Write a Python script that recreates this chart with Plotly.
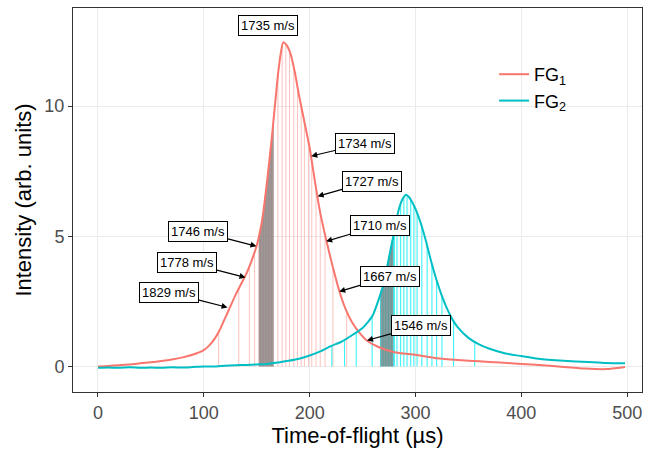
import numpy as np
import plotly.graph_objects as go

# ---- data ----
fg1_t = [0, 10, 20, 30, 40, 50, 60, 70, 80, 90, 100, 105, 110, 115, 120, 125, 130, 135, 140, 145,
         150, 155, 160, 165, 170, 173, 175, 178, 182, 186, 190, 195, 200, 205, 210, 216, 222, 228,
         234, 240, 247, 254, 265, 280, 300, 320, 340, 360, 380, 400, 420, 440, 460, 480, 490, 498]
fg1_y = [0.00, 0.02, 0.05, 0.08, 0.12, 0.16, 0.21, 0.27, 0.35, 0.46, 0.63, 0.80, 1.05, 1.40, 1.85,
         2.30, 2.75, 3.15, 3.55, 4.05, 4.65, 5.60, 7.20, 9.10, 11.20, 12.10, 12.45, 12.35, 12.00,
         11.30, 10.40, 9.40, 8.40, 7.10, 5.90, 4.80, 3.80, 2.90, 2.20, 1.70, 1.30, 1.00, 0.75,
         0.55, 0.45, 0.32, 0.25, 0.20, 0.15, 0.10, 0.05, -0.02, -0.08, -0.10, -0.06, -0.02]

fg2_t = [0, 10, 20, 30, 40, 50, 60, 70, 80, 90, 100, 110, 120, 130, 140, 150, 160, 170, 180, 190,
         200, 210, 220, 230, 240, 250, 255, 260, 265, 270, 275, 280, 284, 288, 291, 294, 297, 300,
         305, 310, 315, 320, 325, 330, 335, 340, 350, 360, 370, 385, 400, 416, 440, 463, 480, 498]
fg2_y = [-0.05, -0.04, -0.05, -0.03, -0.05, -0.04, -0.05, -0.03, -0.04, -0.02, 0.00, 0.00, 0.03,
         0.05, 0.06, 0.08, 0.10, 0.15, 0.22, 0.30, 0.42, 0.58, 0.78, 0.95, 1.20, 1.48, 1.70, 2.00,
         2.55, 3.20, 4.20, 5.20, 6.00, 6.45, 6.60, 6.50, 6.30, 6.05, 5.50, 4.80, 4.00, 3.30, 2.70,
         2.20, 1.80, 1.50, 1.10, 0.85, 0.68, 0.50, 0.40, 0.30, 0.22, 0.17, 0.13, 0.12]

fg1_sticks = [114, 133, 143, 148, 152, 153.5, 155, 156.5, 158, 159.5, 161, 162.5, 164, 165.5,
              170, 174, 177.5, 181, 185, 188.5, 192, 195, 199, 202, 206, 210, 214.5, 222, 235]
fg2_sticks = [221, 233, 244, 259, 267, 268.5, 270, 271.5, 273, 274.5, 276, 277.5, 279,
              280, 282.5, 286, 289, 292, 295.5, 298.5, 301.5, 306, 311, 315.5, 320, 325, 336, 356]
fg1_band = [152, 166]
fg2_band = [267, 279]

labels = ["1735 m/s", "1734 m/s", "1727 m/s", "1710 m/s", "1667 m/s", "1546 m/s",
          "1746 m/s", "1778 m/s", "1829 m/s"]
label_t = [161, 201.5, 207.5, 215.6, 227.9, 254.2, 149.7, 139.4, 122.4]
label_y = [13.1, 8.08, 6.54, 4.81, 2.88, 1.00, 4.62, 3.42, 2.27]
label_ax = [0, 54, 54, 54, 51, 54, -58, -59, -59]
label_ay = [0, -13, -15, -16, -15, -15, -15, -15, -15]

RED = "#F8766D"
CYAN = "#00BFC4"

fig = go.Figure()


def sticks(ts, curve_t, curve_y, color):
    xs, ys = [], []
    for t in ts:
        h = float(np.interp(t, curve_t, curve_y))
        xs += [t, t, None]
        ys += [0, h, None]
    return go.Scatter(x=xs, y=ys, mode="lines", line=dict(color=color, width=1),
                      showlegend=False, hoverinfo="skip")


def band(b, curve_t, curve_y):
    inner = [t for t in curve_t if b[0] < t < b[1]]
    xs = [b[0]] + inner + [b[1]]
    ys = [float(np.interp(t, curve_t, curve_y)) for t in xs]
    return go.Scatter(x=xs, y=ys, mode="lines", line=dict(width=0), fill="tozeroy",
                      fillcolor="rgba(120,120,120,0.72)", showlegend=False, hoverinfo="skip")


fig.add_trace(sticks(fg1_sticks, fg1_t, fg1_y, "rgba(248,118,109,0.45)"))
fig.add_trace(sticks(fg2_sticks, fg2_t, fg2_y, "rgba(0,240,245,0.85)"))
fig.add_trace(band(fg1_band, fg1_t, fg1_y))
fig.add_trace(band(fg2_band, fg2_t, fg2_y))

fig.add_trace(go.Scatter(x=fg1_t, y=fg1_y, mode="lines", name="FG<sub>1</sub>",
                         line=dict(color=RED, width=2, shape="spline", smoothing=0.6)))
fig.add_trace(go.Scatter(x=fg2_t, y=fg2_y, mode="lines", name="FG<sub>2</sub>",
                         line=dict(color=CYAN, width=2, shape="spline", smoothing=0.6)))

for txt, t, y, ax, ay in zip(labels, label_t, label_y, label_ax, label_ay):
    fig.add_annotation(x=t, y=y, text=txt, showarrow=(ax != 0 or ay != 0),
                       ax=ax, ay=ay, arrowhead=2, arrowsize=1, arrowwidth=1.2,
                       arrowcolor="black", standoff=0, startstandoff=0,
                       font=dict(size=13, color="black"), bgcolor="white",
                       bordercolor="black", borderwidth=1, borderpad=2)

axis_common = dict(showgrid=True, gridcolor="#EBEBEB", gridwidth=1, zeroline=False,
                   showline=True, linecolor="#333333", linewidth=1, mirror=True,
                   ticks="outside", ticklen=4, tickcolor="#333333", automargin=False,
                   tickfont=dict(size=18, color="#4D4D4D"))

fig.update_layout(
    width=666, height=449,
    margin=dict(l=73, r=24, t=8, b=57),
    plot_bgcolor="white", paper_bgcolor="white",
    font=dict(family="Liberation Sans, Arial, sans-serif", color="black"),
    xaxis=dict(range=[-23.6, 514], tickvals=[0, 100, 200, 300, 400, 500],
               title=dict(text="Time-of-flight (µs)", font=dict(size=22), standoff=2),
               **axis_common),
    yaxis=dict(range=[-0.98, 13.77], tickvals=[0, 5, 10],
               title=dict(text="Intensity (arb. units)", font=dict(size=22), standoff=6),
               **axis_common),
    legend=dict(x=0.74, y=0.875, xanchor="left", yanchor="top", bgcolor="rgba(0,0,0,0)",
                font=dict(size=18, color="black"), tracegroupgap=0),
)

fig.write_html("out.html")
